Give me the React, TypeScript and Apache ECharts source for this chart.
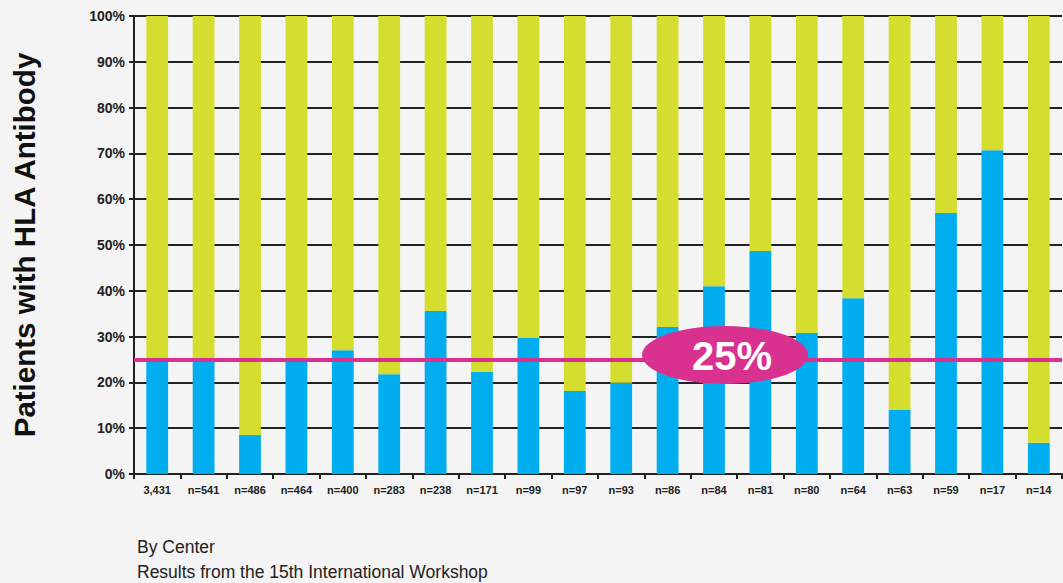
import React, { useEffect, useRef } from "react";
import * as echarts from "echarts";

const categories = ["3,431", "n=541", "n=486", "n=464", "n=400", "n=283", "n=238", "n=171", "n=99", "n=97", "n=93", "n=86", "n=84", "n=81", "n=80", "n=64", "n=63", "n=59", "n=17", "n=14"];
const withAntibody = [24.5, 24.5, 8.5, 24.5, 27, 21.8, 35.6, 22.3, 29.7, 18.1, 19.9, 32.1, 41, 48.7, 30.8, 38.4, 14, 57, 70.7, 6.8];
const withoutAntibody = [75.5, 75.5, 91.5, 75.5, 73, 78.2, 64.4, 77.7, 70.3, 81.9, 80.1, 67.9, 59, 51.3, 69.2, 61.6, 86, 43, 29.3, 93.2];
const yTicks = [0, 10, 20, 30, 40, 50, 60, 70, 80, 90, 100];
const thresholdValue = 25;

export default function App() {
  const ref = useRef<HTMLDivElement>(null);
  useEffect(() => {
    document.body.style.margin = "0";
    document.body.style.background = "#f4f4f4";
    const chart = echarts.init(ref.current!, null, { renderer: "svg" });
    const font = "Arial, 'Liberation Sans', sans-serif";
    chart.setOption({
      animation: false,
      backgroundColor: "#f4f4f4",
      grid: { left: 134, top: 16, right: 1, bottom: 109 },
      xAxis: {
        type: "category",
        data: categories,
        boundaryGap: true,
        axisLine: { lineStyle: { color: "#222", width: 2 } },
        axisTick: { show: true, length: 5, lineStyle: { color: "#222", width: 2 } },
        axisLabel: { color: "#222", fontWeight: "bold", fontSize: 11, fontFamily: font, margin: 10, interval: 0 },
      },
      yAxis: {
        type: "value",
        min: 0,
        max: 100,
        interval: 10,
        name: "Patients with HLA Antibody",
        nameLocation: "middle",
        nameGap: 95,
        nameTextStyle: { color: "#111", fontSize: 29.5, fontWeight: "bold", fontFamily: font },
        axisLine: { show: true, lineStyle: { color: "#222", width: 2 } },
        axisTick: { show: true, length: 5, inside: false, lineStyle: { color: "#222", width: 2 } },
        splitLine: { lineStyle: { color: "#222", width: 2 } },
        axisLabel: {
          color: "#222",
          fontWeight: "bold",
          fontSize: 14,
          fontFamily: font,
          margin: 9,
          formatter: (v: number) => (yTicks.includes(v) ? v + "%" : ""),
        },
      },
      series: [
        {
          type: "bar",
          stack: "s",
          data: withAntibody,
          barWidth: "47%",
          itemStyle: { color: "#00aeef" },
          markLine: {
            silent: true,
            symbol: "none",
            label: { show: false },
            lineStyle: { color: "#d9318f", width: 4, type: "solid" },
            data: [{ yAxis: thresholdValue }],
            z: 5,
          },
        },
        {
          type: "bar",
          stack: "s",
          data: withoutAntibody,
          barWidth: "47%",
          itemStyle: { color: "#d5dd2f" },
        },
      ],
      graphic: [
        {
          type: "ellipse",
          shape: { cx: 725, cy: 355, rx: 83, ry: 29 },
          style: { fill: "#d9318f" },
          z: 100,
        },
        {
          type: "text",
          x: 732,
          y: 356,
          style: {
            text: "25%",
            fill: "#ffffff",
            font: "bold 40px Arial, 'Liberation Sans', sans-serif",
            textAlign: "center",
            textVerticalAlign: "middle",
          },
          z: 101,
        },
        {
          type: "text",
          left: 137,
          top: 538,
          style: { text: "By Center", fill: "#222", font: "17.5px Arial, 'Liberation Sans', sans-serif" },
        },
        {
          type: "text",
          left: 137,
          top: 563,
          style: { text: "Results from the 15th International Workshop", fill: "#222", font: "17.5px Arial, 'Liberation Sans', sans-serif" },
        },
      ],
    });
    return () => chart.dispose();
  }, []);
  return <div ref={ref} style={{ width: 1063, height: 583 }} />;
}
